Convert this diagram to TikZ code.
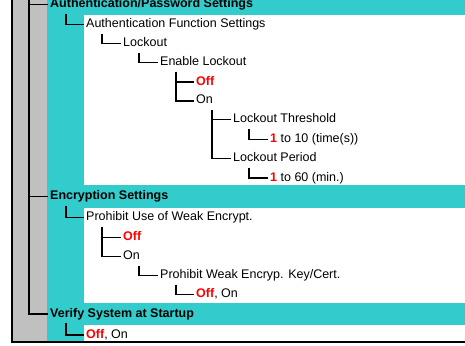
\documentclass[tikz,border=0pt]{standalone}
\usepackage{fontspec}
\setmainfont{Liberation Sans}
\usetikzlibrary{positioning}
\definecolor{bandteal}{RGB}{51,204,204}
\definecolor{colgray}{RGB}{192,192,192}
\newcommand{\redopt}[1]{\textcolor{red}{\textbf{#1}}}
\tikzset{
  entry/.style={anchor=west, inner xsep=2bp, inner ysep=3bp, text height=9bp, text depth=3bp,
    font=\fontsize{12.5bp}{15bp}\selectfont},
  heading/.style={entry, font=\fontsize{12.5bp}{15bp}\selectfont\bfseries},
  branch/.style={line width=1.5bp}
}

\begin{document}
\begin{tikzpicture}[x=1bp, y=-1bp,
   frame/.style={line width=2bp}
   ]
   \useasboundingbox (0,0) rectangle (465,345);

   % background bands
   \fill[colgray] (12,-2) rectangle (47,342);
   \fill[bandteal] (47,-2) rectangle (466,342);
   \fill[white] (84,15) rectangle (466,185);
   \fill[white] (84,208) rectangle (466,303);
   \fill[white] (84,325) rectangle (466,342);
   \draw[frame] (12,-2) -- (12,342) -- (466,342);

   \path (48,4.5) node[heading] (auth) {Authentication/Password Settings}
   (84,24.3) node[entry] (authfn) {Authentication Function Settings}
   (121,43.3) node[entry] (lock) {Lockout}
   (158,62.3) node[entry] (enlock) {Enable Lockout}
   (194,82) node[entry] (lockoff) {\redopt{Off}}
   (194,100.8) node[entry] (lockon) {On}
   (231,119.7) node[entry] (thresh) {Lockout Threshold}
   (268,139.5) node[entry] (threshval) {\redopt{1} to 10 (time(s))}
   (231,158.3) node[entry] (period) {Lockout Period}
   (268,178) node[entry] (periodval) {\redopt{1} to 60 (min.)};

   \path (48,196.3) node[heading] (encr) {Encryption Settings}
   (84,217.5) node[entry] (weak) {Prohibit Use of Weak Encrypt.}
   (121,237.3) node[entry] (weakoff) {\redopt{Off}}
   (121,256.3) node[entry] (weakon) {On}
   (158,275.3) node[entry] (weakkey) {Prohibit Weak Encryp. Key/Cert.}
   (194,294.3) node[entry] (weakkeyval) {\redopt{Off}, On};

   \path (48,314) node[heading] (verify) {Verify System at Startup}
   (84,335) node[entry] (verifyval) {\redopt{Off}, On};

   \coordinate (trunk) at (29,-2);

   % tree lines
   \draw[branch] (trunk) |- (auth.west);
   \draw[branch] (trunk) |- (encr.west);
   \draw[branch] (trunk) |- (verify.west);

   \draw[branch] ([xshift=18bp]auth.south west) |- (authfn.west);
   \draw[branch] ([xshift=18bp]authfn.south west) |- (lock.west);
   \draw[branch] ([xshift=18bp]lock.south west) |- (enlock.west);
   \draw[branch] ([xshift=18bp]enlock.south west) |- (lockoff.west);
   \draw[branch] ([xshift=18bp]enlock.south west) |- (lockon.west);
   \draw[branch] ([xshift=18bp]lockon.south west) |- (thresh.west);
   \draw[branch] ([xshift=18bp]lockon.south west) |- (period.west);
   \draw[branch] ([xshift=18bp]thresh.south west) |- (threshval.west);
   \draw[branch] ([xshift=18bp]period.south west) |- (periodval.west);

   \draw[branch] ([xshift=18bp]encr.south west) |- (weak.west);
   \draw[branch] ([xshift=18bp]weak.south west) |- (weakoff.west);
   \draw[branch] ([xshift=18bp]weak.south west) |- (weakon.west);
   \draw[branch] ([xshift=18bp]weakon.south west) |- (weakkey.west);
   \draw[branch] ([xshift=18bp]weakkey.south west) |- (weakkeyval.west);

   \draw[branch] ([xshift=18bp]verify.south west) |- (verifyval.west);

\end{tikzpicture}
\end{document}
